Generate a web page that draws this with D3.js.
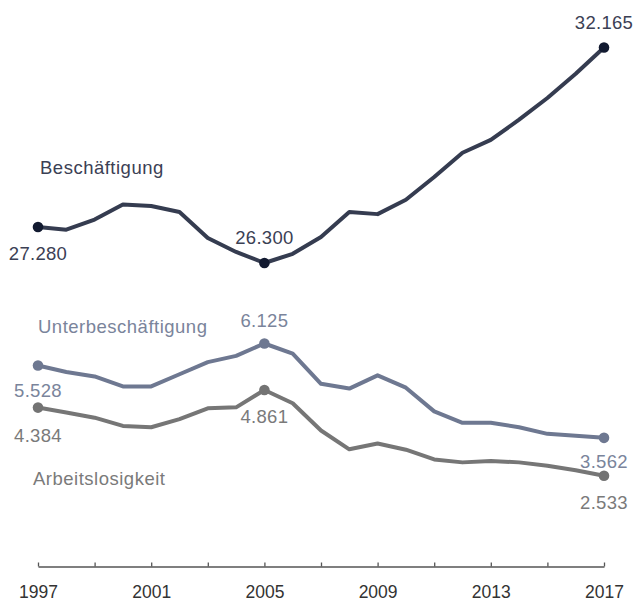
<!DOCTYPE html>
<html>
<head>
<meta charset="utf-8">
<script src="https://cdnjs.cloudflare.com/ajax/libs/d3/7.8.5/d3.min.js"></script>
<style>
  body { margin: 0; background: #fff; }
  svg text { font-family: "Liberation Sans", Arial, sans-serif; }
</style>
</head>
<body>
<div id="chart"></div>
<script>
    var years = d3.range(1997, 2018);

    // Mio. Personen
    var beschaeftigung = [27.280, 27.208, 27.483, 27.890, 27.850, 27.690, 26.980, 26.600, 26.300, 26.550,
                          27.010, 27.690, 27.630, 28.020, 28.640, 29.300, 29.650, 30.200, 30.790, 31.450, 32.165];
    var unterbeschaeftigung = [5.528, 5.350, 5.230, 4.960, 4.960, 5.290, 5.620, 5.790, 6.125, 5.850,
                               5.030, 4.900, 5.260, 4.925, 4.280, 3.970, 3.970, 3.850, 3.670, 3.620, 3.562];
    var arbeitslosigkeit = [4.384, 4.250, 4.110, 3.885, 3.850, 4.070, 4.365, 4.390, 4.861, 4.500,
                            3.760, 3.250, 3.410, 3.240, 2.975, 2.895, 2.935, 2.895, 2.805, 2.680, 2.533];

    var tickYears = [1997, 2001, 2005, 2009, 2013, 2017];

    var width = 635,
        height = 601;

    var svg = d3.select("#chart")
            .append("svg")
            .attr("width", width)
            .attr("height", height);

    var x = d3.scaleLinear()
        .domain([1997, 2017])
        .range([38, 604]);

    // gebrochene Achse: beide Teile mit gleicher Skalierung (px je Mio.)
    var yTop = d3.scaleLinear()
        .domain([26.3, 32.165])
        .range([263, 47.5]);

    var yBottom = d3.scaleLinear()
        .domain([2.533, 6.125])
        .range([475.7, 343.5]);

    var fmt = function(v) { return d3.format(".3f")(v).replace(".", "."); };

    var series = [
        { name: "Beschäftigung", values: beschaeftigung, y: yTop, line: "#353c50", dot: "#121a30", text: "#3b4054",
          marks: [[0, 33], [8, -19], [20, -19]], label: [40, 174] },
        { name: "Unterbeschäftigung", values: unterbeschaeftigung, y: yBottom, line: "#6e7891", dot: "#6e7891", text: "#7a849b",
          marks: [[0, 32], [8, -17], [20, 30]], label: [38, 333] },
        { name: "Arbeitslosigkeit", values: arbeitslosigkeit, y: yBottom, line: "#767676", dot: "#737373", text: "#7a7a7a",
          marks: [[0, 34], [8, 33], [20, 33]], label: [33, 485] }
    ];

    // x-Achse
    var axis = svg.append("g")
        .attr("class", "x-axis")
        .attr("transform", "translate(0,566.5)")
        .call(d3.axisBottom(x)
            .tickValues(d3.range(1997, 2018, 2))
            .tickSizeInner(-4)
            .tickSizeOuter(0)
            .tickFormat(function(d) { return tickYears.indexOf(d) >= 0 ? d : ""; }));

    axis.select(".domain").attr("stroke", "#555").attr("stroke-width", 1.3);
    axis.selectAll(".tick line").attr("stroke", "#555").attr("stroke-width", 1.3);
    axis.selectAll(".tick text")
        .attr("y", 0)
        .attr("dy", 31.5)
        .attr("fill", "#333")
        .style("font-size", "17.5px");

    series.forEach(function(s) {
        var line = d3.line()
            .x(function(d, i) { return x(years[i]); })
            .y(function(d) { return s.y(d); });

        svg.append("path")
            .datum(s.values)
            .attr("d", line)
            .attr("fill", "none")
            .attr("stroke", s.line)
            .attr("stroke-width", 4)
            .attr("stroke-linejoin", "round");

        s.marks.forEach(function(m) {
            var i = m[0];
            svg.append("circle")
                .attr("cx", x(years[i]))
                .attr("cy", s.y(s.values[i]))
                .attr("r", 5.3)
                .attr("fill", s.dot);

            svg.append("text")
                .attr("x", x(years[i]))
                .attr("y", s.y(s.values[i]) + m[1])
                .attr("text-anchor", "middle")
                .attr("fill", s.text)
                .style("font-size", "18.5px")
                .style("letter-spacing", "0.3px")
                .text(fmt(s.values[i]));
        });

        svg.append("text")
            .attr("x", s.label[0])
            .attr("y", s.label[1])
            .attr("fill", s.text)
            .style("font-size", "18.5px")
            .style("letter-spacing", "0.5px")
            .text(s.name);
    });
</script>
</body>
</html>
